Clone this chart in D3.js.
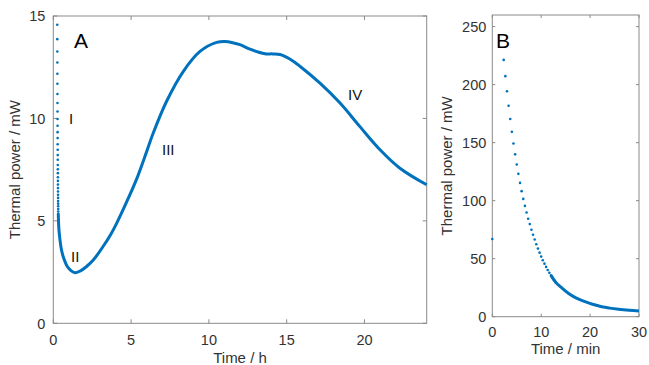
<!DOCTYPE html>
<html><head><meta charset="utf-8">
<script src="https://cdn.jsdelivr.net/npm/d3@7"></script>
<style>body{margin:0;background:#fff}svg{display:block}text{font-family:"Liberation Sans",Arial,sans-serif}</style>
</head><body><svg id="c" width="649" height="365"></svg>
<script>
// Panel A: steep initial part (markers)
const aDotT = [0.255,0.257,0.259,0.261,0.263,0.265,0.267,0.269,0.271,0.273,0.275,0.277,0.279,0.281,0.283,0.285,0.287,0.289,0.291,0.293,0.295,0.297,0.299,0.301,0.303,0.305,0.307,0.309,0.311,0.313,0.315,0.317,0.319];
const aDotV = [14.57,13.87,13.27,12.73,12.18,11.69,11.19,10.75,10.34,9.97,9.64,9.33,9.04,8.74,8.47,8.21,7.98,7.73,7.52,7.33,7.13,6.95,6.77,6.60,6.43,6.27,6.12,5.97,5.84,5.71,5.58,5.46,5.35];
// Panel A: dense part (drawn as line)
const aLineT = [0.32,0.36,0.43,0.52,0.64,0.88,1.1,1.39,1.72,2.1,2.57,3.2,3.7,4.07,4.7,5.36,6.0,6.43,7.29,8.36,9.43,10.5,11.03,12.0,12.64,13.6,14.1,14.57,15.2,15.85,17.14,18.43,19.71,21.0,22.28,24.0];
const aLineV = [5.35,4.6,4.07,3.6,3.25,2.8,2.6,2.47,2.55,2.75,3.09,3.75,4.35,4.88,5.9,7.05,8.38,9.3,10.85,12.3,13.27,13.71,13.76,13.6,13.38,13.16,13.15,13.12,12.9,12.55,11.72,10.75,9.6,8.47,7.57,6.76];
const aXTicks = [0,5,10,15,20];
const aYTicks = [0,5,10,15];
const aPhases = ["I","II","III","IV"];
// Panel B
const bDotT = [0,2.33,2.67,3.0,3.33,3.67,4.0,4.33,4.67,5.0,5.33,5.67,6.0,6.33,6.67,7.0,7.33,7.67,8.0,8.33,8.67,9.0,9.33,9.67,10.0,10.33,10.67,11.0,11.33,11.67,12.0,12.33,12.67,13.0];
const bDotV = [67,221.3,207.3,194.3,181.8,170.4,159.3,149.2,139.9,131.2,123.1,115.3,108.2,101.5,95.5,89.8,84.4,79.8,74.9,70.6,66.5,62.5,58.7,55.2,51.8,48.7,45.7,42.9,40.3,37.9,35.6,33.4,31.4,29.5];
const bLineT = [12,13,14,15.54,17,18.96,20.5,22.37,24,25.8,28,30];
const bLineV = [35.6,29.5,25.6,20.2,16.4,13.0,10.7,8.6,7.4,6.4,5.5,4.9];
const bXTicks = [0,10,20,30];
const bYTicks = [0,50,100,150,200,250];

const svg = d3.select("#c");
const blue = "#0072BD", axisCol = "#8a8a8a", txt = "#333";

function panel(o){
  const x = d3.scaleLinear().domain(o.xd).range([o.l,o.r]);
  const y = d3.scaleLinear().domain(o.yd).range([o.b,o.t]);
  const g = svg.append("g");
  const tl = o.tick;
  g.append("rect").attr("x",o.l).attr("y",o.t).attr("width",o.r-o.l).attr("height",o.b-o.t)
    .attr("fill","none").attr("stroke",axisCol).attr("stroke-width",1);
  o.xt.forEach(v=>{
    g.append("line").attr("x1",x(v)).attr("x2",x(v)).attr("y1",o.b).attr("y2",o.b-tl).attr("stroke",axisCol);
    g.append("line").attr("x1",x(v)).attr("x2",x(v)).attr("y1",o.t).attr("y2",o.t+tl).attr("stroke",axisCol);
    g.append("text").attr("x",x(v)).attr("y",o.b+o.xlOff).attr("text-anchor","middle")
      .attr("font-size",14.5).attr("fill",txt).text(v);
  });
  o.yt.forEach(v=>{
    g.append("line").attr("x1",o.l).attr("x2",o.l+tl).attr("y1",y(v)).attr("y2",y(v)).attr("stroke",axisCol);
    g.append("line").attr("x1",o.r).attr("x2",o.r-tl).attr("y1",y(v)).attr("y2",y(v)).attr("stroke",axisCol);
    g.append("text").attr("x",o.l-o.ylOff).attr("y",y(v)).attr("dy","0.36em").attr("text-anchor","end")
      .attr("font-size",14.5).attr("fill",txt).text(v);
  });
  g.append("text").attr("x",(o.l+o.r)/2).attr("y",o.xTitleY).attr("text-anchor","middle")
    .attr("font-size",15).attr("fill",txt).text(o.xTitle);
  g.append("text").attr("transform",`translate(${o.yTitleX},${(o.t+o.b)/2}) rotate(-90)`)
    .attr("text-anchor","middle").attr("dy","0.36em").attr("font-size",15).attr("fill",txt).text("Thermal power / mW");
  const line = d3.line().x(d=>x(d[0])).y(d=>y(d[1])).curve(d3.curveCatmullRom.alpha(0.5));
  g.append("path").datum(d3.zip(o.lt,o.lv)).attr("d",line).attr("fill","none")
    .attr("stroke",blue).attr("stroke-width",o.lw).attr("stroke-linejoin","round");
  g.selectAll(null).data(d3.zip(o.dt,o.dv)).join("circle")
    .attr("cx",d=>x(d[0])).attr("cy",d=>y(d[1])).attr("r",o.dr).attr("fill",blue);
  g.append("text").attr("x",o.letterX).attr("y",48).attr("font-size",21).attr("fill","#000").text(o.letter);
  return {x,y,g};
}

const A = panel({l:53.3,r:426.7,t:16,b:323.3,xd:[0,24],yd:[0,15],xt:aXTicks,yt:aYTicks,tick:4,
  xlOff:22,ylOff:8,xTitle:"Time / h",xTitleY:363,yTitleX:15,
  lt:aLineT,lv:aLineV,dt:aDotT,dv:aDotV,lw:3,dr:1.3,letter:"A",letterX:74});
const phasePos = [[69,124],[71,261.5],[162,155],[348,100]];
aPhases.forEach((p,i)=>{
  A.g.append("text").attr("x",phasePos[i][0]).attr("y",phasePos[i][1]).attr("font-size",15)
   .attr("fill","#111").text(p);
});

panel({l:492.3,r:639,t:15,b:316.7,xd:[0,30],yd:[0,260],xt:bXTicks,yt:bYTicks,tick:3,
  xlOff:20.5,ylOff:6,xTitle:"Time / min",xTitleY:354,yTitleX:447,
  lt:bLineT,lv:bLineV,dt:bDotT,dv:bDotV,lw:3,dr:1.3,letter:"B",letterX:496});
</script></body></html>
